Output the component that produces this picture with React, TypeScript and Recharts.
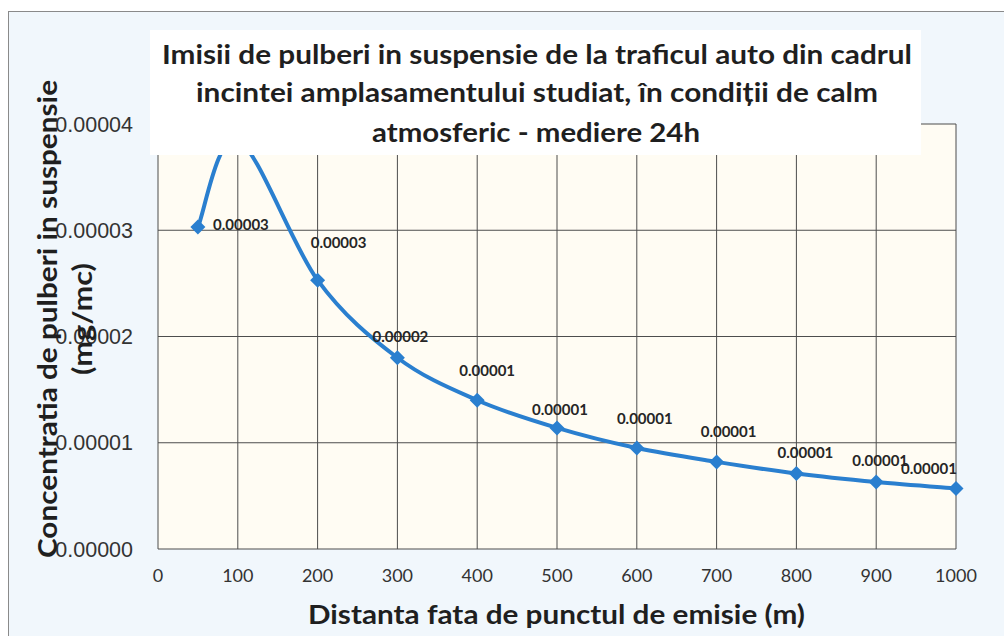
import React from 'react';
import { LineChart, Line, XAxis, YAxis, CartesianGrid } from 'recharts';

// ---- data ----
const distances = [50, 100, 200, 300, 400, 500, 600, 700, 800, 900, 1000];
const concentrations = [
  0.0000303, 0.0000385, 0.0000253, 0.000018, 0.000014, 0.0000114, 0.0000095, 0.0000082, 0.0000071,
  0.0000063, 0.0000057,
];
const xTicks = [0, 100, 200, 300, 400, 500, 600, 700, 800, 900, 1000];
const yTicks = [0, 0.00001, 0.00002, 0.00003, 0.00004];
const titleLines = [
  'Imisii de pulberi in suspensie de la traficul auto din cadrul',
  'incintei amplasamentului studiat, în condiții de calm',
  'atmosferic - mediere 24h',
];
const xAxisTitle = 'Distanta fata de punctul de emisie (m)';
const yAxisTitleLines = ['Concentratia de pulberi in suspensie', '(mg/mc)'];

// ---- layout / style (not data) ----
const labelOffsets: [number, number][] = [
  [43, -2], [10, -25], [21, -38], [3, -21], [10, -30], [3, -18], [8, -29], [12, -30], [9, -21], [4, -21], [-27, -20],
];
const TITLE_BOX = { x: 150, y: 30, w: 771, h: 125 };
const BLUE = '#2a7fcf';
const TITLE_FONT = 'Lato, "Open Sans", sans-serif';

const data = distances.map((d, i) => ({ distance: d, value: concentrations[i] }));

// Excel-like smoothed line (Bezier with 1/6 neighbour tangents)
function excelCurve(context: any) {
  let pts: [number, number][] = [];
  return {
    areaStart() {},
    areaEnd() {},
    lineStart() {
      pts = [];
    },
    lineEnd() {
      const n = pts.length;
      if (!n) return;
      context.moveTo(pts[0][0], pts[0][1]);
      for (let i = 0; i < n - 1; i++) {
        const p0 = pts[Math.max(i - 1, 0)];
        const p1 = pts[i];
        const p2 = pts[i + 1];
        const p3 = pts[Math.min(i + 2, n - 1)];
        context.bezierCurveTo(
          p1[0] + (p2[0] - p0[0]) / 6,
          p1[1] + (p2[1] - p0[1]) / 6,
          p2[0] - (p3[0] - p1[0]) / 6,
          p2[1] - (p3[1] - p1[1]) / 6,
          p2[0],
          p2[1]
        );
      }
    },
    point(x: number, y: number) {
      pts.push([+x, +y]);
    },
  };
}

const renderDot = (props: any) => {
  const { cx, cy, index, payload } = props;
  if (cx == null || cy == null) return <g key={`dot-${index}`} />;
  const [dx, dy] = labelOffsets[index] || [0, -20];
  const s = 7.5;
  const lx = cx + dx;
  const ly = cy + dy + 5.4;
  // labels that would sit beneath the opaque title box are not visible in the original
  const hidden = ly < TITLE_BOX.y + TITLE_BOX.h + 5 && lx > TITLE_BOX.x && lx < TITLE_BOX.x + TITLE_BOX.w;
  return (
    <g key={`dot-${index}`}>
      <path d={`M${cx},${cy - s}L${cx + s},${cy}L${cx},${cy + s}L${cx - s},${cy}Z`} fill={BLUE} />
      {hidden ? null : (
        <text
          x={lx}
          y={ly}
          textAnchor="middle"
          fontFamily={TITLE_FONT}
          fontWeight={700}
          fontSize={15}
          fill="#262626"
        >
          {Number(payload.value).toFixed(5)}
        </text>
      )}
    </g>
  );
};

export default function App() {
  return (
    <div
      style={{
        position: 'absolute',
        left: 0,
        top: 0,
        width: 1004,
        height: 636,
        overflow: 'hidden',
        background: '#ffffff',
      }}
    >
      <div
        style={{
          position: 'absolute',
          left: 8,
          top: 11,
          width: 1020,
          height: 650,
          border: '1.5px solid #8a8a8a',
          background: '#f1f7fc',
        }}
      />
      <div style={{ position: 'absolute', left: 0, top: 0 }}>
        <LineChart width={1004} height={636} data={data} margin={{ top: 124, right: 48, bottom: 0, left: 8 }}>
          <CartesianGrid stroke="#4d4d4d" strokeWidth={1} fill="#fffcf3" fillOpacity={1} />
          <XAxis
            type="number"
            dataKey="distance"
            domain={[0, 1000]}
            ticks={xTicks}
            interval={0}
            axisLine={false}
            tickLine={false}
            tickSize={0}
            tickMargin={20}
            height={87}
            tick={{ fontFamily: TITLE_FONT, fontSize: 18, fill: '#333' }}
          />
          <YAxis
            type="number"
            domain={[0, 0.00004]}
            ticks={yTicks}
            interval={0}
            tickFormatter={(v: number) => v.toFixed(5)}
            width={150}
            axisLine={false}
            tickLine={false}
            tickSize={0}
            tickMargin={25}
            tick={{ fontFamily: '"Liberation Sans", Arial, sans-serif', fontSize: 21.5, fill: '#333' }}
          />
          <Line
            dataKey="value"
            type={excelCurve as any}
            stroke={BLUE}
            strokeWidth={4}
            dot={renderDot}
            activeDot={false}
            isAnimationActive={false}
          />
        </LineChart>
      </div>
      <svg width={1004} height={636} style={{ position: 'absolute', left: 0, top: 0, pointerEvents: 'none' }}>
        <rect x={TITLE_BOX.x} y={TITLE_BOX.y} width={TITLE_BOX.w} height={TITLE_BOX.h} fill="#ffffff" />
        <g fontFamily={TITLE_FONT} fontWeight={700} fontSize={26} fill="#1f1f1f">
          <text x={162} y={64} textLength={750} lengthAdjust="spacingAndGlyphs">
            {titleLines[0]}
          </text>
          <text x={196} y={102} textLength={682} lengthAdjust="spacingAndGlyphs">
            {titleLines[1]}
          </text>
          <text x={372} y={142} textLength={328} lengthAdjust="spacingAndGlyphs">
            {titleLines[2]}
          </text>
          <text x={308} y={624} textLength={497} lengthAdjust="spacingAndGlyphs">
            {xAxisTitle}
          </text>
          <text transform="translate(57,558) rotate(-90)" textLength={478} lengthAdjust="spacingAndGlyphs">
            {yAxisTitleLines[0]}
          </text>
          <text transform="translate(92,375) rotate(-90)" textLength={112} lengthAdjust="spacingAndGlyphs">
            {yAxisTitleLines[1]}
          </text>
        </g>
      </svg>
    </div>
  );
}
